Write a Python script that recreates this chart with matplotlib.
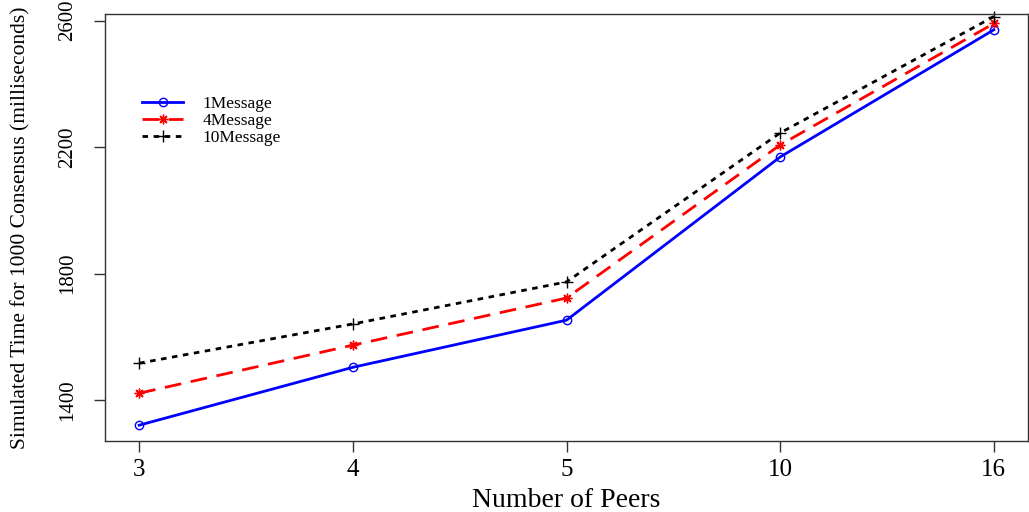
import matplotlib
matplotlib.use("Agg")
import matplotlib.pyplot as plt
import numpy as np

# consensus timing vs peer count
peers = ["3", "4", "5", "10", "16"]
msg1 = [1321, 1504, 1653, 2169, 2571]
msg4 = [1422, 1574, 1723, 2207, 2591]
msg10 = [1517, 1641, 1774, 2245, 2613]
labels = ["1Message", "4Message", "10Message"]

plt.rcParams['font.family'] = ['Liberation Serif', 'DejaVu Serif']

fig = plt.figure(figsize=(10.29, 5.12), dpi=100)
ax = fig.add_axes([105 / 1029, 1 - 441 / 512, 923 / 1029, 427 / 512])

x = np.arange(len(peers))
ax.plot(x, msg1, color='#0000ff', lw=2.0, marker='o', ms=6, mfc='none',
        mec='#0000ff', mew=1.0, label=labels[0], clip_on=False)
ax.plot(x, msg4, color='#ff0000', lw=2.0, ls=(0, (6, 3.5)), marker=(8, 2, 0), ms=7,
        mew=1.0, label=labels[1], clip_on=False)
ax.plot(x, msg10, color='black', lw=2.0, ls=(0, (2, 2)), marker='+', ms=9,
        mew=1.0, label=labels[2], clip_on=False)

# R-style axis extents: 4% padding, y range from the first series
ax.set_xlim(-0.16, len(peers) - 1 + 0.16)
lo, hi = min(msg1), max(msg1)
pad = (hi - lo) * 0.04
ax.set_ylim(lo - pad, hi + pad)

ax.set_xticks(x)
ax.set_xticklabels(peers, fontsize=18)
ax.set_yticks([1400, 1800, 2200, 2600])
ax.set_yticklabels(["1400", "1800", "2200", "2600"], fontsize=15,
                   rotation=90, va='center')
ax.tick_params(direction='out', length=8, width=1, color='#333333')
ax.tick_params(axis='x', pad=5)
ax.tick_params(axis='y', pad=12)
for s in ax.spines.values():
    s.set_linewidth(1.0)
    s.set_color('#333333')

ax.set_xlabel("Number of Peers", fontsize=20, labelpad=5)
ax.set_ylabel("Simulated Time for 1000 Consensus (milliseconds)", fontsize=15.5,
              labelpad=20)

ax.legend(loc='upper left', bbox_to_anchor=(133 / 1029, 1 - 87 / 512),
          bbox_transform=fig.transFigure, frameon=False, fontsize=12.5,
          handlelength=2.4, handletextpad=1.1, labelspacing=0.06,
          borderpad=0)

fig.savefig("out.png", dpi=100)
